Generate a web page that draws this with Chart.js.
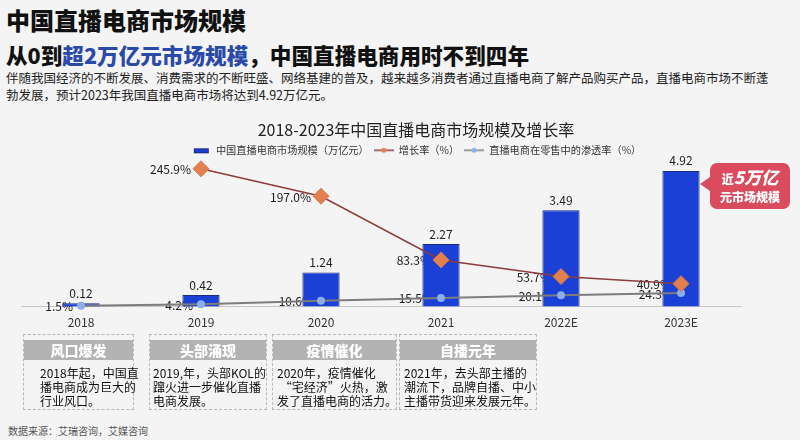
<!DOCTYPE html>
<html>
<head>
<meta charset="utf-8">
<script src="https://cdn.jsdelivr.net/npm/chart.js@4.4.1/dist/chart.umd.min.js"></script>
<style>
    html, body { margin: 0; padding: 0; width: 800px; height: 440px; overflow: hidden; }
    body { background: #f4f4f4; font-family: "Noto Sans CJK SC", "Noto Sans", sans-serif; position: relative; color: #111; }
    .h1 { position: absolute; left: 6px; top: 2px; font-size: 24px; font-weight: 900; }
    .h2 { position: absolute; left: 6px; top: 39px; font-size: 21.6px; font-weight: 900; }
    .h2 span { color: #2a4aa8; }
    .desc { position: absolute; left: 6px; top: 69px; width: 790px; font-size: 12.5px; line-height: 17px; color: #222; }
    #chartWrap { position: absolute; left: 0; top: 114px; width: 811px; height: 225px; }
    .callout { position: absolute; left: 710px; top: 163px; width: 80px; height: 46px; background: #d94b5d; border-radius: 7px; color: #fff; text-align: center; font-weight: 900; }
    .callout:before { content: ""; position: absolute; left: -10px; top: 14px; border-top: 7px solid transparent; border-bottom: 7px solid transparent; border-right: 10px solid #d94b5d; }
    .callout .a { font-size: 17px; line-height: 21px; margin-top: 3px; font-style: italic; }
    .callout .a small { font-size: 12px; font-style: normal; }
    .callout .b { font-size: 12px; line-height: 16px; }
    .box { position: absolute; top: 334px; height: 76px; border: 1px dashed #b8b8b8; box-sizing: border-box; }
    .box .hd { margin-top: 5px; height: 20px; background: #b3b3b3; color: #fff; font-weight: 900; font-size: 14px; line-height: 20px; text-align: center; }
    .box .bd { font-size: 12px; line-height: 14px; margin-top: 6px; white-space: nowrap; color: #111; }
    .src { position: absolute; left: 8px; top: 423px; font-size: 10px; color: #555; }
</style>
</head>
<body>
<div class="h1">中国直播电商市场规模</div>
<div class="h2">从0到<span>超2万亿元市场规模</span>，中国直播电商用时不到四年</div>
<div class="desc">伴随我国经济的不断发展、消费需求的不断旺盛、网络基建的普及，越来越多消费者通过直播电商了解产品购买产品，直播电商市场不断蓬<br>勃发展，预计2023年我国直播电商市场将达到4.92万亿元。</div>

<div id="chartWrap"><canvas id="marketChart"></canvas></div>

<div class="callout"><div class="a"><small>近</small>5万亿</div><div class="b">元市场规模</div></div>

<div class="box" style="left:23px;width:111px;"><div class="hd">风口爆发</div><div class="bd" style="padding-left:16px;">2018年起，中国直<br>播电商成为巨大的<br>行业风口。</div></div>
<div class="box" style="left:149px;width:118px;"><div class="hd">头部涌现</div><div class="bd" style="padding-left:3px;">2019,年，头部KOL的<br>蹿火进一步催化直播<br>电商发展。</div></div>
<div class="box" style="left:272px;width:125px;"><div class="hd">疫情催化</div><div class="bd" style="padding-left:4px;">2020年，疫情催化<br>&nbsp;“宅经济”火热，激<br>发了直播电商的活力。</div></div>
<div class="box" style="left:399px;width:138px;"><div class="hd">自播元年</div><div class="bd" style="padding-left:4px;">2021年，去头部主播的<br>潮流下，品牌自播、中小<br>主播带货迎来发展元年。</div></div>

<div class="src">数据来源：艾瑞咨询，艾媒咨询</div>

<script>
const years = ['2018', '2019', '2020', '2021', '2022E', '2023E'];
const marketSize = [0.12, 0.42, 1.24, 2.27, 3.49, 4.92];
const growthRate = [null, 245.9, 197.0, 83.3, 53.7, 40.9];
const penetration = [1.5, 4.2, 10.6, 15.5, 20.1, 24.3];

const BAR_BLUE = '#1b40d6';
const GROWTH_LINE = '#8c3c3c';
const GROWTH_POINT = '#e2804f';
const PEN_LINE = '#7d7d7d';
const PEN_POINT = '#8eaee8';

// small legend symbols
function legendIcon(kind) {
    const c = document.createElement('canvas');
    c.width = 20; c.height = 10;
    const ctx = c.getContext('2d');
    if (kind === 'bar') {
        ctx.fillStyle = BAR_BLUE;
        ctx.fillRect(3, 3, 15, 5);
        ctx.strokeStyle = '#1a2a80';
        ctx.strokeRect(3.5, 3.5, 14, 4);
    } else {
        ctx.strokeStyle = kind === 'growth' ? GROWTH_LINE : PEN_LINE;
        ctx.lineWidth = 1.5;
        ctx.beginPath(); ctx.moveTo(0, 5); ctx.lineTo(20, 5); ctx.stroke();
        ctx.fillStyle = kind === 'growth' ? GROWTH_POINT : PEN_POINT;
        ctx.beginPath(); ctx.arc(10, 5, 2.5, 0, Math.PI * 2); ctx.fill();
    }
    return c;
}
const icons = [legendIcon('bar'), legendIcon('growth'), legendIcon('pen')];

const valueLabels = {
    id: 'valueLabels',
    beforeDatasetsDraw(chart) {
        // line labels go under the bars, like the original
        const ctx = chart.ctx;
        ctx.save();
        ctx.font = '12px "Noto Sans CJK SC", sans-serif';
        ctx.fillStyle = '#222';
        ctx.textAlign = 'right';
        ctx.textBaseline = 'middle';
        [[1, growthRate, 10], [2, penetration, 8]].forEach(([idx, data, gap]) => {
            const meta = chart.getDatasetMeta(idx);
            meta.data.forEach((pt, i) => {
                if (data[i] == null) return;
                ctx.fillText(data[i].toFixed(1) + '%', pt.x - gap, pt.y + 1);
            });
        });
        ctx.restore();
    },
    afterDatasetsDraw(chart) {
        const ctx = chart.ctx;
        ctx.save();
        ctx.font = '12px "Noto Sans CJK SC", sans-serif';
        ctx.fillStyle = '#222';
        ctx.textAlign = 'center';
        ctx.textBaseline = 'bottom';
        chart.getDatasetMeta(0).data.forEach((bar, i) => {
            ctx.fillText(marketSize[i].toFixed(2), bar.x, bar.y - 4);
        });
        ctx.restore();
    }
};

new Chart(document.getElementById('marketChart'), {
    type: 'bar',
    data: {
        labels: years,
        datasets: [
            { label: '中国直播电商市场规模（万亿元）', data: marketSize, backgroundColor: BAR_BLUE, borderColor: '#1a2a80', borderWidth: 1, categoryPercentage: 1, barPercentage: 0.31, yAxisID: 'y', order: 3, clip: false },
            { label: '增长率（%）', data: growthRate, type: 'line', yAxisID: 'y1', borderColor: GROWTH_LINE, borderWidth: 1.5, pointStyle: 'rectRot', pointRadius: 8, pointBackgroundColor: GROWTH_POINT, pointBorderColor: '#d8774a', pointBorderWidth: 1, fill: false, order: 1, clip: false },
            { label: '直播电商在零售中的渗透率（%）', data: penetration, type: 'line', yAxisID: 'y1', borderColor: PEN_LINE, borderWidth: 2, pointStyle: 'circle', pointRadius: 3, pointBackgroundColor: PEN_POINT, pointBorderColor: PEN_POINT, fill: false, order: 2, clip: false }
        ]
    },
    options: {
        responsive: true,
        maintainAspectRatio: false,
        animation: false,
        layout: { padding: { left: 21, right: 0, top: 0, bottom: 0 } },
        plugins: {
            title: {
                display: true,
                text: '2018-2023年中国直播电商市场规模及增长率',
                color: '#222',
                font: { size: 16, weight: 'normal', family: '"Noto Sans CJK SC", sans-serif' },
                padding: { top: 6, bottom: 1 }
            },
            legend: {
                labels: {
                    usePointStyle: true,
                    pointStyleWidth: 20,
                    padding: 5,
                    color: '#333',
                    font: { size: 10.2, family: '"Noto Sans CJK SC", sans-serif' },
                    sort: (a, b) => a.datasetIndex - b.datasetIndex,
                    generateLabels(chart) {
                        const items = Chart.defaults.plugins.legend.labels.generateLabels(chart);
                        items.forEach(it => { it.pointStyle = icons[it.datasetIndex]; });
                        return items;
                    }
                }
            },
            tooltip: { enabled: false }
        },
        scales: {
            x: {
                grid: { display: false, drawTicks: false, tickLength: 0 },
                border: { color: '#c6c6c6', width: 1 },
                ticks: { color: '#333', padding: 9, font: { size: 12, family: '"Noto Sans CJK SC", sans-serif' } }
            },
            y: { display: false, min: 0, max: 5.12 },
            y1: { display: false, min: 0, max: 252 },
            pad: {
                position: 'right',
                display: true,
                grid: { display: false },
                border: { display: false },
                ticks: { display: false },
                afterFit(scale) { scale.width = 70; }
            }
        }
    },
    plugins: [valueLabels]
});
</script>
</body>
</html>
